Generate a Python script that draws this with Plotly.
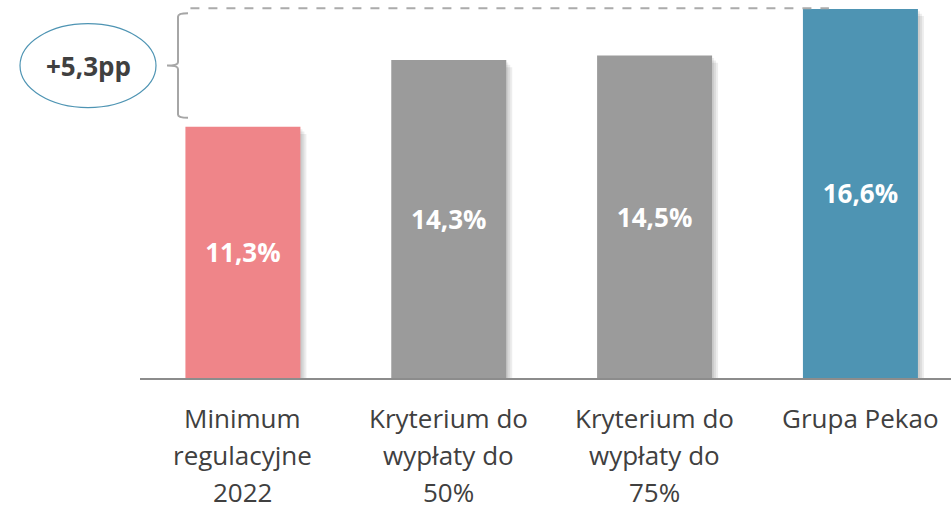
import plotly.graph_objects as go

# Capital ratio comparison
categories = ["Minimum<br>regulacyjne<br>2022",
              "Kryterium do<br>wypłaty do<br>50%",
              "Kryterium do<br>wypłaty do<br>75%",
              "Grupa Pekao"]
values = [11.3, 14.3, 14.5, 16.6]
colors = ["#EF8589", "#9B9B9B", "#9B9B9B", "#4E94B3"]

W, H = 951, 509
M_L, M_B = 140, 131
plot_w = W - M_L
plot_h = H - M_B
Y_MAX = 17.0
X_RANGE = [-0.5, 3.44]
cat_px = plot_w / (X_RANGE[1] - X_RANGE[0])
px_y = plot_h / Y_MAX
BAR_W = 115 / cat_px

def pct(v):
    return f"{v:.1f}%".replace(".", ",")

xs = list(range(len(values)))
fig = go.Figure()

# soft drop shadow under each bar
for d in (2, 4, 6):
    fig.add_trace(go.Bar(
        x=xs, y=[v - d / px_y * 0.6 for v in values], base=-d / px_y * 0.6,
        width=BAR_W, offset=-BAR_W / 2 + d / cat_px,
        marker=dict(color="rgba(0,0,0,0.07)", line=dict(width=0)),
        hoverinfo="skip", showlegend=False))

fig.add_trace(go.Bar(
    x=xs, y=values, width=BAR_W, offset=-BAR_W / 2,
    marker=dict(color=colors, line=dict(width=0)),
    text=[pct(v) for v in values], textposition="inside",
    insidetextanchor="middle",
    textfont=dict(family="Open Sans", size=26, color="white", weight="bold"),
    showlegend=False))

def px2paper(px):
    return (px - M_L) / plot_w

lo, hi = min(values), max(values)

# dashed reference line at the highest value
fig.add_shape(type="line", xref="x", yref="y",
              x0=-BAR_W / 2 + 5 / cat_px, x1=3 - BAR_W / 2 + 26 / cat_px,
              y0=hi + 0.03, y1=hi + 0.03,
              line=dict(color="#ABABAB", width=2, dash="dash"))

# curly brace spanning the gap
yt, yb = hi - 0.2, lo + 0.4
ym = (yt + yb) / 2
xv, xa, xt = px2paper(178), px2paper(188), px2paper(167)
r = 0.15
path = (f"M {xa},{yt} Q {xv},{yt} {xv},{yt - r} "
        f"L {xv},{ym + r} Q {xv},{ym} {xt},{ym} "
        f"Q {xv},{ym} {xv},{ym - r} "
        f"L {xv},{yb + r} Q {xv},{yb} {xa},{yb}")
fig.add_shape(type="path", xref="paper", yref="y", path=path,
              line=dict(color="#A6A6A6", width=2))

# ellipse with the difference
fig.add_shape(type="circle", xref="paper", yref="y",
              x0=px2paper(20), x1=px2paper(156),
              y0=ym - 42 / px_y, y1=ym + 42 / px_y,
              line=dict(color="#4E94B3", width=1.2), fillcolor="rgba(0,0,0,0)")
diff = hi - lo
fig.add_annotation(xref="paper", yref="y", x=px2paper(88), y=ym,
                   text=f"+{diff:.1f}pp".replace(".", ","), showarrow=False,
                   font=dict(family="Open Sans", size=26, color="#404040",
                             weight="bold"),
                   xanchor="center", yanchor="middle")

# category labels, one annotation per line for tall line spacing
for i, cat in enumerate(categories):
    for k, line in enumerate(cat.split("<br>")):
        fig.add_annotation(xref="x", yref="y", x=i, y=0, text=line,
                           showarrow=False, xanchor="center", yanchor="middle",
                           yshift=-(40 + 37 * k), borderpad=0,
                           font=dict(family="Open Sans", size=26,
                                     color="#404040"))

fig.update_layout(
    width=W, height=H,
    margin=dict(l=M_L, r=0, t=0, b=M_B),
    paper_bgcolor="white", plot_bgcolor="white",
    barmode="overlay",
    xaxis=dict(range=X_RANGE, showticklabels=False, ticks="",
               showgrid=False, zeroline=False, showline=True,
               linecolor="#8C8C8C", linewidth=1.5, fixedrange=True),
    yaxis=dict(range=[0, Y_MAX], visible=False, showgrid=False,
               zeroline=False, fixedrange=True),
)

fig.write_html("out.html", config={"displayModeBar": False})
